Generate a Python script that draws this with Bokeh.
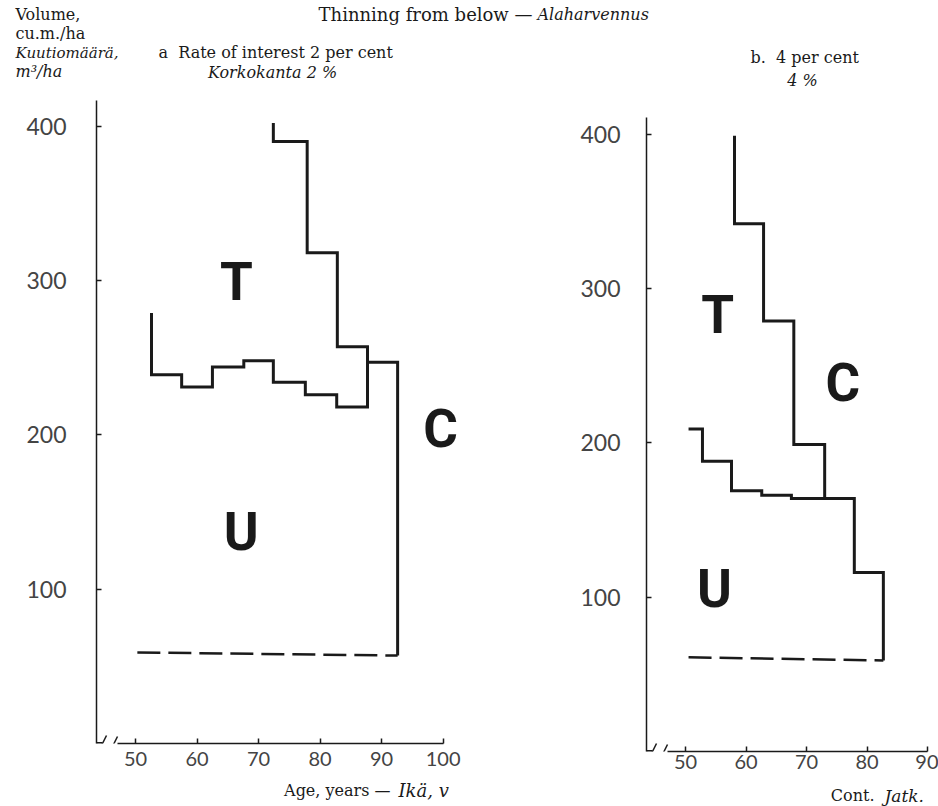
from bokeh.plotting import figure
from bokeh.models import Range1d, Label, FixedTicker, Spacer
from bokeh.layouts import row, column
from bokeh.embed import file_html
from bokeh.resources import INLINE

# ---------------- data ----------------
# Panel a: rate of interest 2 per cent
a_u_ages = [52.6, 57.5, 62.5, 67.6, 72.4, 77.6, 82.7, 87.7, 92.6]
a_u_levels = [239, 231, 244, 248, 234, 226, 218, 247]
a_u_start = 279
a_t_ages = [72.4, 77.9, 82.8, 87.7]
a_t_levels = [390, 318, 257]
a_t_start = 402
a_t_end = 218
a_dash_ages = [50.3, 92.6]
a_dash_vol = [59, 57]
a_letters = ["T", "U", "C"]
a_letter_x = [66.4, 67.2, 99.6]
a_letter_y = [299, 137, 204]

# Panel b: 4 per cent
b_u_ages = [50.5, 52.8, 57.6, 62.6, 67.5, 77.9, 82.7]
b_u_levels = [209, 188, 169, 166, 164, 116]
b_u_start = 209
b_t_ages = [58.1, 62.9, 67.9, 73.0]
b_t_levels = [342, 279, 199]
b_t_start = 399
b_t_end = 164
b_dash_ages = [50.5, 82.7]
b_dash_vol = [61, 59]
b_letters = ["T", "C", "U"]
b_letter_x = [55.3, 76.0, 54.8]
b_letter_y = [283, 239, 105]

y_ticks = [100, 200, 300, 400]
a_x_ticks = [50, 60, 70, 80, 90, 100]
b_x_ticks = [50, 60, 70, 80, 90]

INK = "#1a1a1a"
TICK_FONT = "Lato"
SERIF = "DejaVu Serif"
BIG = "Roboto"

W, H = 938, 806
TOP_H = 90          # title strip
BORDER_TOP = 10
BORDER_BOTTOM = 33
FRAME_H = 643
PANEL_H = BORDER_TOP + FRAME_H + BORDER_BOTTOM
SHIFT_B = 8         # panel b sits a little lower than panel a
PY_SCALE = 1.5433   # px per m3/ha
A_W = 535
B_W = W - A_W
A_LEFT, A_FRAME_W = 96, 384
B_LEFT, B_FRAME_W = 646 - A_W, 288


def stair(ages, levels, start, end):
    xs = [ages[0]]
    ys = [start]
    for i, lv in enumerate(levels):
        xs += [ages[i], ages[i + 1]]
        ys += [lv, lv]
    xs.append(ages[-1])
    ys.append(end)
    return xs, ys


def strip(width, height, x_left, y_top, border_left=0, frame_w=None):
    if frame_w is None:
        frame_w = width
    fx0 = x_left + border_left
    p = figure(width=width, height=height, x_range=Range1d(fx0, fx0 + frame_w),
               y_range=Range1d(y_top + height, y_top),
               output_backend="svg", toolbar_location=None, x_axis_location=None,
               y_axis_location=None, min_border=0, min_border_left=border_left,
               min_border_right=width - border_left - frame_w)
    p.outline_line_color = None
    p.grid.visible = False
    return p


def lab(p, x, y, text, align="left", style="normal", size="16px", font=SERIF):
    p.add_layout(Label(x=x, y=y, text=text, text_align=align, text_baseline="middle",
                       text_font=font, text_font_style=style, text_font_size=size,
                       text_color=INK))


def panel(width, border_left, frame_w, axis_age, px_per_year, axis_top_px, xticks,
          ystand, xstand, letters, lx, ly):
    x0 = axis_age
    x1 = x0 + frame_w / px_per_year
    y1 = FRAME_H / PY_SCALE
    p = figure(width=width, height=PANEL_H, x_range=Range1d(x0, x1), y_range=Range1d(0, y1),
               output_backend="svg", toolbar_location=None,
               min_border_left=border_left, min_border_right=width - border_left - frame_w,
               min_border_top=BORDER_TOP, min_border_bottom=BORDER_BOTTOM)
    p.outline_line_color = None
    p.grid.visible = False
    for ax in (p.xaxis[0], p.yaxis[0]):
        ax.major_tick_in = 5
        ax.major_tick_out = 0
        ax.minor_tick_line_color = None
        ax.major_tick_line_color = INK
        ax.major_tick_line_width = 1.5
        ax.axis_line_color = INK
        ax.axis_line_width = 1.5
        ax.major_label_text_font = TICK_FONT
        ax.major_label_text_color = "#444444"

    def X(px_off):
        return axis_age + px_off / px_per_year

    def Y(px_off):
        return px_off / PY_SCALE

    p.yaxis[0].ticker = FixedTicker(ticks=y_ticks)
    p.yaxis[0].major_label_text_font_size = "23px"
    p.yaxis[0].major_label_standoff = ystand
    p.yaxis[0].bounds = (0, y1 - Y(axis_top_px))
    p.xaxis[0].ticker = FixedTicker(ticks=xticks)
    p.xaxis[0].major_label_text_font_size = "20px"
    p.xaxis[0].major_label_standoff = xstand
    p.xaxis[0].bounds = (X(21), xticks[-1])

    # broken-axis mark (hook and double slash)
    p.line([X(0), X(6)], [0, 0], line_color=INK, line_width=3)
    p.line([X(4), X(10)], [Y(-4), Y(8)], line_color=INK, line_width=1.5)
    p.line([X(15), X(21)], [Y(-5), Y(7)], line_color=INK, line_width=1.5)

    for t, x, y in zip(letters, lx, ly):
        p.add_layout(Label(x=x, y=y, text=t, text_align="center", text_baseline="middle",
                           text_font=BIG, text_font_style="bold", text_font_size="53px",
                           text_color=INK))
    return p


# ---------------- panel a ----------------
pa = panel(A_W, A_LEFT, A_FRAME_W, 43.66, 6.153, 0, a_x_ticks, 30, 8,
           a_letters, a_letter_x, a_letter_y)
xs, ys = stair(a_u_ages, a_u_levels, a_u_start, a_dash_vol[-1])
pa.line(xs, ys, line_color=INK, line_width=3, line_join="miter")
xs, ys = stair(a_t_ages, a_t_levels, a_t_start, a_t_end)
pa.line(xs, ys, line_color=INK, line_width=3, line_join="miter")
pa.line(a_dash_ages, a_dash_vol, line_color=INK, line_width=2.5, line_dash="23 8")

# ---------------- panel b ----------------
pb = panel(B_W, B_LEFT, B_FRAME_W, 43.55, 6.05, 9, b_x_ticks, 26, 3,
           b_letters, b_letter_x, b_letter_y)
xs, ys = stair(b_u_ages, b_u_levels, b_u_start, b_dash_vol[-1])
pb.line(xs, ys, line_color=INK, line_width=3, line_join="miter")
xs, ys = stair(b_t_ages, b_t_levels, b_t_start, b_t_end)
pb.line(xs, ys, line_color=INK, line_width=3, line_join="miter")
pb.line(b_dash_ages, b_dash_vol, line_color=INK, line_width=2.5, line_dash="23 8")

# ---------------- title strip ----------------
top = strip(W, TOP_H, 0, 0)
lab(top, 15, 14, "Volume,")
lab(top, 15, 33, "cu.m./ha")
lab(top, 15, 52, "Kuutiomäärä,", style="italic", size="15px")
lab(top, 15, 71, "m³/ha", style="italic")
lab(top, 158, 52, "a\u00a0\u00a0Rate of interest 2 per cent")
lab(top, 272, 72, "Korkokanta 2 %", align="center", style="italic")
lab(top, 532, 14, "Thinning from below \u2014", align="right", size="18px")
lab(top, 537, 14, "Alaharvennus", style="italic", size="16px")
lab(top, 750, 57, "b.\u00a0\u00a04 per cent")
lab(top, 802, 80, "4 %", align="center", style="italic")

# ---------------- bottom strips (aligned with the panels above them) ----------------
bot_a_top = TOP_H + PANEL_H
bot_a = strip(A_W, H - bot_a_top, 0, bot_a_top, A_LEFT, A_FRAME_W)
lab(bot_a, 390, 790, "Age, years \u2014", align="right")
lab(bot_a, 398, 790, "Ikä, v", style="italic", size="18px")

bot_b_top = TOP_H + SHIFT_B + PANEL_H
bot_b = strip(B_W, H - bot_b_top, A_W, bot_b_top, B_LEFT, B_FRAME_W)
lab(bot_b, 874, 795, "Cont.", align="right")
lab(bot_b, 884, 795, "Jatk.", style="italic", size="17px")

layout = column(top, row(column(pa, bot_a),
                         column(Spacer(width=B_W, height=SHIFT_B), pb, bot_b)))
open("out.html", "w").write(file_html(layout, INLINE))
